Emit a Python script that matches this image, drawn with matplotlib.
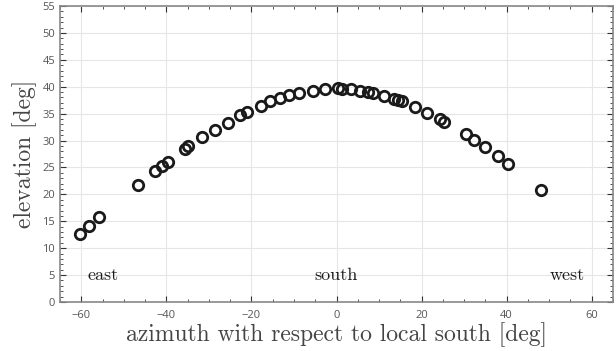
import matplotlib
matplotlib.use("Agg")
import matplotlib.pyplot as plt
from matplotlib.ticker import MultipleLocator

# azimuth (deg, wrt local south) and elevation (deg)
azimuth = [-60.3, -58.2, -55.9, -46.7, -42.7, -41.0, -39.6, -35.6, -34.8,
           -31.7, -28.6, -25.6, -22.7, -21.0, -17.7, -15.6, -13.2, -11.2,
           -8.8, -5.5, -2.6, 0.4, 1.3, 3.4, 5.6, 7.5, 8.5, 11.2, 13.6,
           14.5, 15.4, 18.4, 21.3, 24.4, 25.3, 30.4, 32.3, 34.9, 38.0,
           40.4, 48.0]
elevation = [12.7, 14.1, 15.8, 21.7, 24.3, 25.2, 26.0, 28.4, 29.0,
             30.6, 32.0, 33.3, 34.7, 35.3, 36.5, 37.4, 37.9, 38.4,
             38.8, 39.2, 39.5, 39.7, 39.5, 39.5, 39.2, 39.0, 38.8, 38.2, 37.8,
             37.5, 37.3, 36.2, 35.1, 34.0, 33.5, 31.2, 30.1, 28.8, 27.1,
             25.6, 20.9]

directions = ["east", "south", "west"]
direction_x = [-54.8, 0, 54.3]
direction_y = 5

serif = ["cmr10", "DejaVu Serif"]

fig = plt.figure(figsize=(6.16, 3.51), dpi=100)
ax = fig.add_axes([60 / 616, 1 - 302 / 351, 553 / 616, 296 / 351])

ax.plot(azimuth, elevation, "o", mfc="none", mec="#1a1a1a", mew=2, ms=7.5)

for name, dx in zip(directions, direction_x):
    ax.text(dx, direction_y, name, ha="center", va="center",
            fontsize=13, family=serif, color="#1a1a1a")

ax.set_xlim(-65, 65)
ax.set_ylim(0, 55)
ax.xaxis.set_major_locator(MultipleLocator(20))
ax.xaxis.set_minor_locator(MultipleLocator(5))
ax.yaxis.set_major_locator(MultipleLocator(5))
ax.yaxis.set_minor_locator(MultipleLocator(1))
ax.tick_params(which="both", direction="in", top=True, right=True,
               colors="#333333", labelcolor="#555555", labelsize=8)
ax.tick_params(which="major", length=4, width=0.8)
ax.tick_params(which="minor", length=2, width=0.6)
ax.tick_params(axis="x", pad=6)
for lbl in ax.get_xticklabels() + ax.get_yticklabels():
    lbl.set_family(["Open Sans", "DejaVu Sans"])
ax.grid(True, which="major", color="#e6e6e6", lw=0.8)
ax.set_axisbelow(True)
for s in ax.spines.values():
    s.set_color("#888888")
    s.set_linewidth(1.2)

ax.set_xlabel("azimuth with respect to local south [deg]", family=serif,
              fontsize=17, color="#444444", labelpad=1)
ax.set_ylabel("elevation [deg]", family=serif, fontsize=17,
              color="#444444", labelpad=4)

fig.savefig("out.png", dpi=100)
